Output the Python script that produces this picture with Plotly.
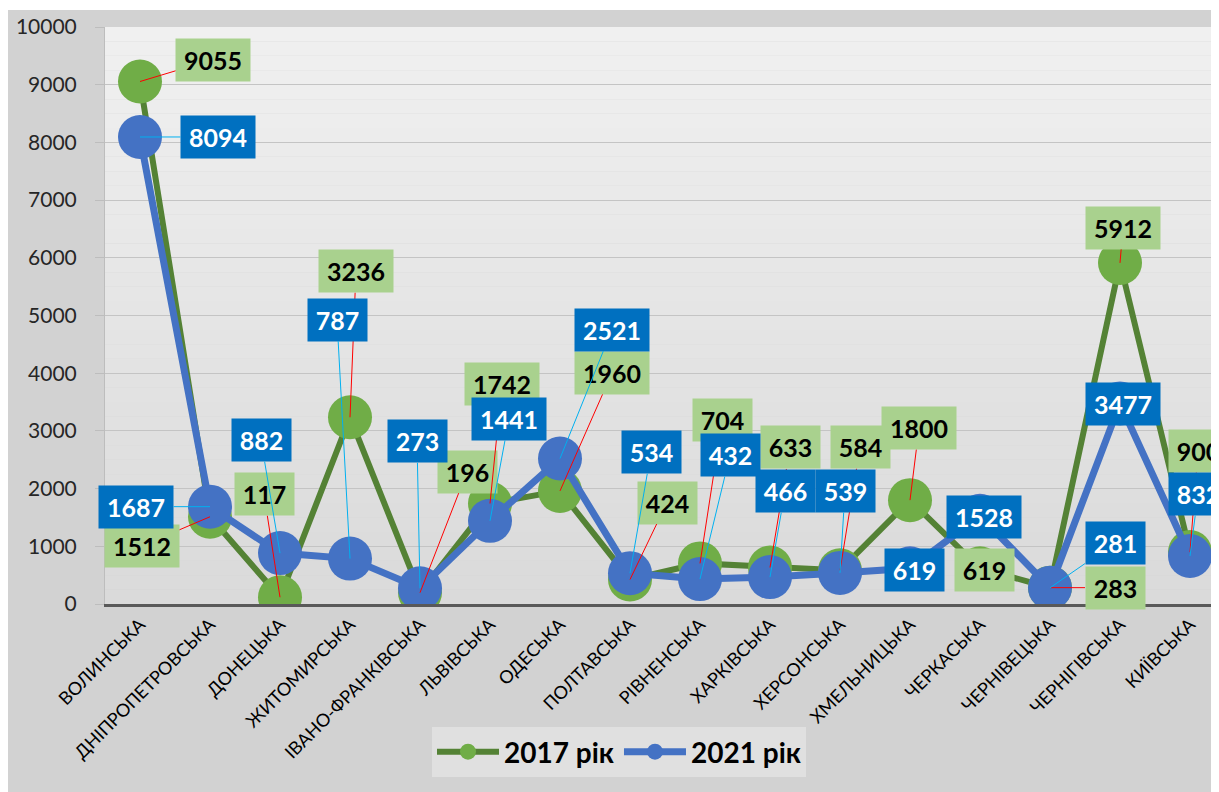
import plotly.graph_objects as go

# ---------------- data ----------------
regions = ["ВОЛИНСЬКА", "ДНІПРОПЕТРОВСЬКА", "ДОНЕЦЬКА", "ЖИТОМИРСЬКА",
           "ІВАНО-ФРАНКІВСЬКА", "ЛЬВІВСЬКА", "ОДЕСЬКА", "ПОЛТАВСЬКА",
           "РІВНЕНСЬКА", "ХАРКІВСЬКА", "ХЕРСОНСЬКА", "ХМЕЛЬНИЦЬКА",
           "ЧЕРКАСЬКА", "ЧЕРНІВЕЦЬКА", "ЧЕРНІГІВСЬКА", "КИЇВСЬКА"]
v2017 = [9055, 1512, 117, 3236, 196, 1742, 1960, 424, 704, 633, 584, 1800, 619, 283, 5912, 900]
v2021 = [8094, 1687, 882, 787, 273, 1441, 2521, 534, 432, 466, 539, 619, 1528, 281, 3477, 832]
series_names = ["2017 рік", "2021 рік"]
y_ticks = [0, 1000, 2000, 3000, 4000, 5000, 6000, 7000, 8000, 9000, 10000]

# label offsets (pixels) from each point to its label box centre
off2017 = [(73, -22), (-68, 29), (-16, -103), (6, -146), (47, -121), (12, -119),
           (52, -118), (37, -77), (22, -143), (20, -120), (20, -123), (9, -72),
           (4, 2), (65, 0), (3, -35), (8, -101)]
off2021 = [(78, 0), (-74, 0), (-19, -113), (-13, -239), (-3, -147), (19, -102),
           (52, -129), (21, -121), (30, -124), (15, -86), (5, -82), (4, 2),
           (4, 1), (65, -45), (3, 1), (8, -62)]

# ---------------- layout geometry ----------------
# page body has an 8 px margin, so the figure starts at (8, 8) of the window
W, H = 1211, 784
L, R, T, B = 97, 1211, 19, 596
PW, PH = R - L, B - T


def xp(px):
    return (px - L) / PW


def yp(py):
    return (B - py) / PH


FONT = "Lato"


def box_w(v):
    return 15 * len(str(v)) + 2


fig = go.Figure()

fig.add_trace(go.Scatter(
    x=regions, y=v2017, name=series_names[0], mode="lines+markers",
    line=dict(color="#548235", width=6),
    marker=dict(color="#70ad47", size=44),
))
fig.add_trace(go.Scatter(
    x=regions, y=v2021, name=series_names[1], mode="lines+markers",
    line=dict(color="#4472c4", width=7),
    marker=dict(color="#4472c4", size=44),
))

annotations = []
for i, v in enumerate(v2017):
    ax, ay = off2017[i]
    annotations.append(dict(
        x=i, y=v, xref="x", yref="y", ax=ax, ay=ay, text=str(v),
        width=box_w(v), align="center",
        showarrow=True, arrowhead=0, arrowwidth=1, arrowcolor="#ff0000",
        standoff=0, startstandoff=0,
        bgcolor="#a9d18e", borderpad=6,
        font=dict(family=FONT, size=25, color="#000000", weight="bold"),
    ))
for i, v in enumerate(v2021):
    ax, ay = off2021[i]
    annotations.append(dict(
        x=i, y=v, xref="x", yref="y", ax=ax, ay=ay, text=str(v),
        width=box_w(v), align="center",
        showarrow=True, arrowhead=0, arrowwidth=1, arrowcolor="#00b0f0",
        standoff=0, startstandoff=0,
        bgcolor="#0070c0", borderpad=6,
        font=dict(family=FONT, size=25, color="#ffffff", weight="bold"),
    ))

# background decoration
shapes = []
n = 40
top_c, bot_c = (240, 240, 240), (218, 218, 218)
for k in range(n):
    t = k / (n - 1)
    c = tuple(int(round(top_c[j] + (bot_c[j] - top_c[j]) * t)) for j in range(3))
    shapes.append(dict(type="rect", xref="paper", yref="paper",
                       x0=0, x1=1, y0=1 - (k + 1) / n, y1=1 - k / n,
                       fillcolor="rgb(%d,%d,%d)" % c, line=dict(width=0),
                       layer="below"))
shapes.append(dict(type="rect", xref="paper", yref="paper",
                   x0=xp(0), x1=xp(W), y0=yp(2), y1=yp(0),
                   fillcolor="#ffffff", line=dict(width=0), layer="below"))

fig.update_layout(
    width=W, height=H,
    margin=dict(l=L, r=W - R, t=T, b=H - B, pad=0),
    paper_bgcolor="#d2d2d2",
    plot_bgcolor="rgba(0,0,0,0)",
    showlegend=True,
    legend=dict(orientation="h", x=xp(611), xanchor="center",
                y=yp(719), yanchor="top",
                bgcolor="rgba(228,228,228,0.75)", borderwidth=0,
                itemwidth=62,
                font=dict(family=FONT, size=28, color="#000000", weight="bold")),
    xaxis=dict(
        type="category", range=[-0.5, PW / 70 - 0.5],
        tickangle=-45,
        tickfont=dict(family=FONT, size=18, color="#000000", weight="normal"),
        showline=True, linecolor="#595959", linewidth=3,
        showgrid=False, ticks="", zeroline=False,
    ),
    yaxis=dict(
        range=[0, 10000], tickvals=y_ticks, tickformat="d",
        tickfont=dict(family=FONT, size=21, color="#262626", weight="normal"),
        showgrid=True, gridcolor="#c4c4c4", gridwidth=1,
        showline=True, linecolor="#bdbdbd", linewidth=1,
        ticks="outside", ticklen=9, tickcolor="#bdbdbd",
        ticklabelstandoff=14, zeroline=False,
    ),
    annotations=annotations,
    shapes=shapes,
)

fig.write_html("out.html")
